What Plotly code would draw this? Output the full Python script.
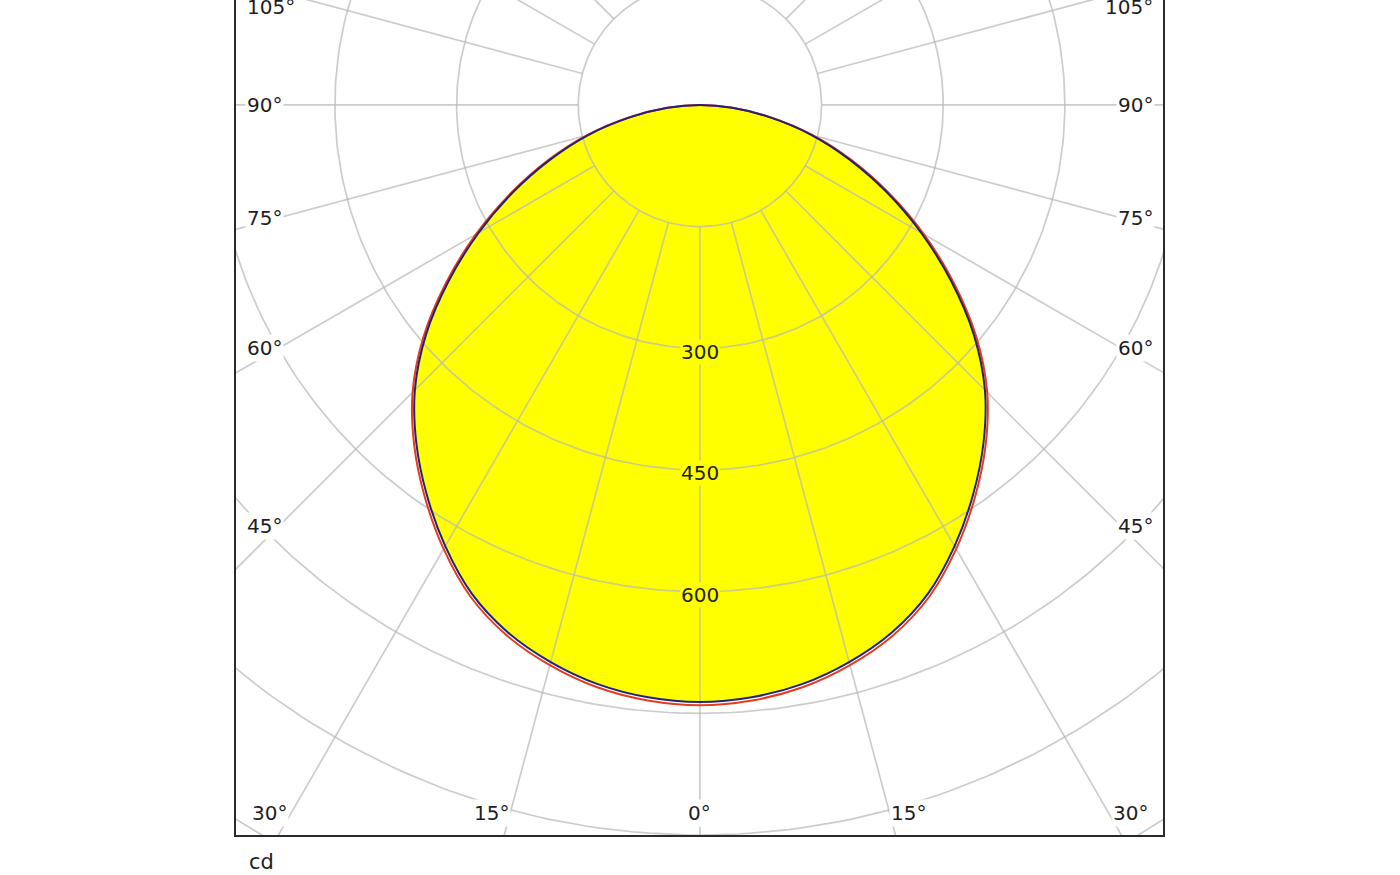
import numpy as np
import plotly.graph_objects as go

# ---- data ----
angles_deg = [0, 5, 10, 15, 20, 25, 30, 35, 40, 45, 50, 55, 60, 65, 70, 75, 80, 85, 90]
blue_cd = [736, 733, 725, 711, 692, 665, 628, 587, 544, 497, 441, 378, 315, 254, 196, 142, 88, 40, 0]
red_cd = [740, 737, 729, 715, 696, 669, 632, 591, 548, 501, 445, 382, 319, 257, 199, 144, 89, 40.5, 0]

grid_radii = [150, 300, 450, 600, 750, 900, 1050, 1200]
ray_angles = list(range(0, 360, 15))
radial_tick_values = [300, 450, 600]
side_angle_labels = [105, 90, 75, 60, 45]
bottom_angle_labels = [-30, -15, 0, 15, 30]
unit_label = "cd"

# ---- styles ----
FONT = "DejaVu Sans"
TXT = "#1e1e1e"
GRID = "rgba(185,185,185,0.72)"
X_RANGE = [-572, 571]
Y_RANGE = [-900, 129.4]


def to_xy(theta_deg, r):
    t = np.radians(np.asarray(theta_deg, dtype=float))
    r = np.asarray(r, dtype=float)
    return r * np.sin(t), -r * np.cos(t)


def full_curve(vals):
    th = [-a for a in angles_deg[::-1]] + angles_deg[1:]
    v = vals[::-1] + vals[1:]
    return to_xy(th, v)


fig = go.Figure()

# yellow fill
bx, by = full_curve(blue_cd)
fig.add_trace(go.Scatter(x=bx, y=by, mode="lines", fill="toself", fillcolor="#ffff00",
                         line=dict(width=0, shape="spline"), hoverinfo="skip", showlegend=False))

# grid circles
gx, gy = [], []
circ = np.arange(0, 361, 1)
for r in grid_radii:
    cx, cy = to_xy(circ, np.full(circ.shape, r))
    gx += list(cx) + [None]
    gy += list(cy) + [None]
# rays
for a in ray_angles:
    rx, ry = to_xy([a, a], [grid_radii[0], 1400])
    gx += list(rx) + [None]
    gy += list(ry) + [None]
fig.add_trace(go.Scatter(x=gx, y=gy, mode="lines", line=dict(color=GRID, width=1.7),
                         hoverinfo="skip", showlegend=False))

# curves
rx_, ry_ = full_curve(red_cd)
fig.add_trace(go.Scatter(x=rx_, y=ry_, mode="lines", line=dict(color="#e63c1e", width=2, shape="spline"),
                         hoverinfo="skip", showlegend=False))
fig.add_trace(go.Scatter(x=bx, y=by, mode="lines", line=dict(color="#22227a", width=2, shape="spline"),
                         hoverinfo="skip", showlegend=False))

ann = []
# radial value labels
for v in radial_tick_values:
    ann.append(dict(x=0, y=-v - 4.3, text=str(v), showarrow=False, xanchor="center", yanchor="middle",
                    font=dict(family=FONT, size=20, color=TXT), bgcolor="#ffff00", borderpad=0))

# side angle labels
side_dx = 519.0
x_side = 560.8
for a in side_angle_labels:
    yv = -side_dx / np.tan(np.radians(a)) if a != 90 else 0.0
    yv = min(yv, 121.0)
    for sgn in (-1, 1):
        ann.append(dict(x=sgn * x_side, y=yv, text=f"{a}°", showarrow=False,
                        xanchor="left" if sgn < 0 else "right", yanchor="middle",
                        font=dict(family=FONT, size=20, color=TXT), bgcolor="white", borderpad=1))

# bottom angle labels
bottom_dy = 885.0
for a in bottom_angle_labels:
    xv = bottom_dy * np.tan(np.radians(a))
    xv = xv - np.sign(a) * 4.3
    anchor = "center" if a == 0 else ("right" if a < 0 else "left")
    ann.append(dict(x=xv, y=-872.7, text=f"{abs(a)}°", showarrow=False, xanchor=anchor, yanchor="middle",
                    font=dict(family=FONT, size=20, color=TXT), bgcolor="white", borderpad=1))

# unit label
ann.append(dict(xref="paper", yref="paper", x=(247 - 236) / 927, y=(835 - 862) / 835, text=unit_label,
                showarrow=False, xanchor="left", yanchor="middle",
                font=dict(family=FONT, size=21, color=TXT)))

fig.update_layout(
    width=1400, height=875,
    margin=dict(l=236, r=237, t=0, b=40),
    paper_bgcolor="white", plot_bgcolor="white",
    showlegend=False,
    annotations=ann,
    xaxis=dict(range=X_RANGE, showgrid=False, zeroline=False, showticklabels=False, ticks="",
               showline=True, linecolor="#2a2a2a", linewidth=2, mirror=False, fixedrange=True),
    yaxis=dict(range=Y_RANGE, showgrid=False, zeroline=False, showticklabels=False, ticks="",
               showline=True, linecolor="#2a2a2a", linewidth=2, mirror=True, fixedrange=True),
)

fig.write_html("out.html", config={"displayModeBar": False},
               post_script="document.body.style.margin='0px';document.body.style.overflow='hidden';")
